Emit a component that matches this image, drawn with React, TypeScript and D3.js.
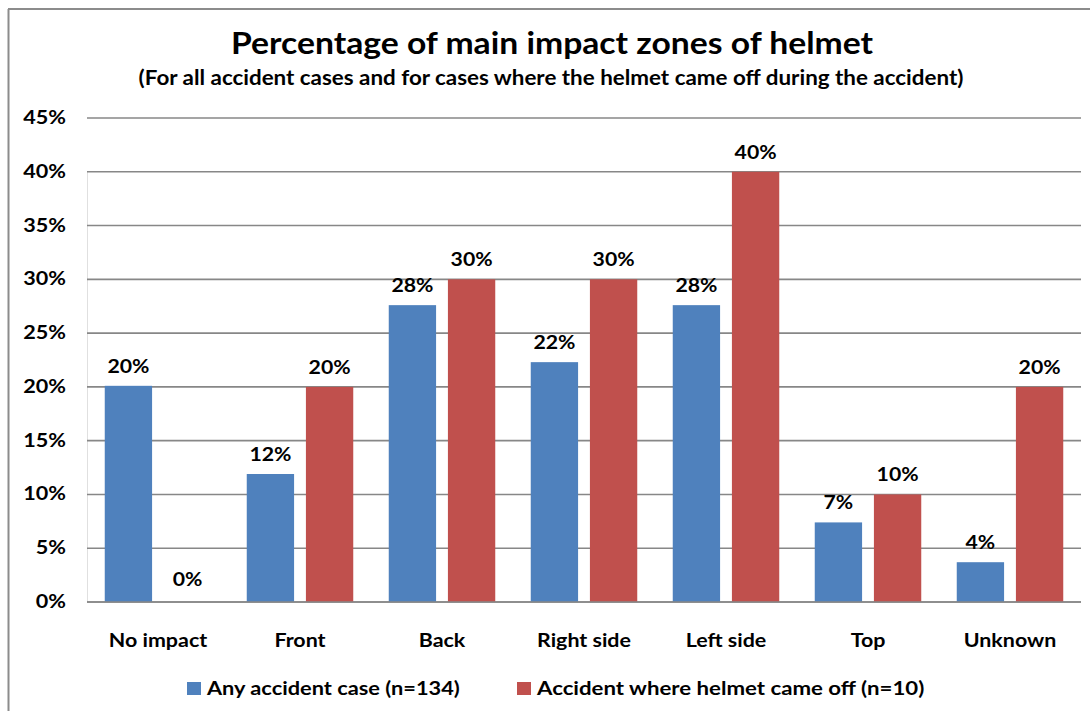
import React from "react";
import * as d3 from "d3";

const categories = ["No impact", "Front", "Back", "Right side", "Left side", "Top", "Unknown"];
const seriesNames = ["Any accident case (n=134)", "Accident where helmet came off (n=10)"];
const anyAccident = [20.1, 11.9, 27.6, 22.3, 27.6, 7.4, 3.7];
const helmetOff = [0, 20, 30, 30, 40, 10, 20];
const anyLabels = ["20%", "12%", "28%", "22%", "28%", "7%", "4%"];
const offLabels = ["0%", "20%", "30%", "30%", "40%", "10%", "20%"];
const yTicks = [0, 5, 10, 15, 20, 25, 30, 35, 40, 45];
const colors = ["#4F81BD", "#C0504D"];

const W = 1090;
const H = 711;
const FONT = "Lato, 'Open Sans', sans-serif";

type TProps = {
  x: number;
  y: number;
  size: number;
  sx: number;
  anchor?: "start" | "middle" | "end";
  children: React.ReactNode;
};

function T({ x, y, size, sx, anchor = "start", children }: TProps) {
  return (
    <text
      transform={`translate(${x},${y}) scale(${sx},1)`}
      textAnchor={anchor}
      fontSize={size}
      fontWeight={700}
      fill="#000"
    >
      {children}
    </text>
  );
}

export default function App() {
  const x = d3.scaleBand<string>().domain(categories).range([87, 1081]).paddingInner(0).paddingOuter(0);
  const xs = d3
    .scaleBand<number>()
    .domain([0, 1])
    .range([0, x.bandwidth()])
    .paddingInner(0.2)
    .paddingOuter(0.3);
  const y = d3.scaleLinear().domain([0, 45]).range([602, 118]);
  const series = [
    { name: seriesNames[0], values: anyAccident, labels: anyLabels, color: colors[0] },
    { name: seriesNames[1], values: helmetOff, labels: offLabels, color: colors[1] },
  ];

  return (
    <svg
      width={W}
      height={H}
      style={{ position: "absolute", left: 0, top: 0, background: "#fff" }}
      fontFamily={FONT}
    >
      <rect x={0} y={0} width={W} height={H} fill="#fff" />
      {/* outer frame */}
      <line x1={8.5} y1={9} x2={8.5} y2={H} stroke="#8c8c8c" strokeWidth={2} />
      <line x1={8} y1={9} x2={W} y2={9} stroke="#8c8c8c" strokeWidth={2} />

      <T x={552} y={54} size={31} sx={1.086} anchor="middle">
        Percentage of main impact zones of helmet
      </T>
      <T x={551} y={85} size={20} sx={1.12} anchor="middle">
        (For all accident cases and for cases where the helmet came off during the accident)
      </T>

      {/* faint plot-area left edge */}
      <line x1={87.5} y1={y(40)} x2={87.5} y2={y(0)} stroke="#e0e0e0" strokeWidth={1} />

      {yTicks.map((t) => (
        <g key={t}>
          <line x1={87} x2={1081} y1={y(t)} y2={y(t)} stroke="#878787" strokeWidth={1.6} />
          <T x={66} y={y(t) + 6} size={18} sx={1.2} anchor="end">
            {t}%
          </T>
        </g>
      ))}

      {series.map((s, si) =>
        categories.map((c, ci) => {
          const bx = (x(c) ?? 0) + (xs(si) ?? 0);
          const by = y(s.values[ci]);
          return (
            <g key={`${si}-${ci}`}>
              {s.values[ci] > 0 && (
                <rect x={bx} y={by} width={xs.bandwidth()} height={y(0) - by} fill={s.color} />
              )}
              <T
                x={bx + xs.bandwidth() / 2}
                y={by - (s.values[ci] > 0 ? 13 : 16)}
                size={18}
                sx={1.18}
                anchor="middle"
              >
                {s.labels[ci]}
              </T>
            </g>
          );
        })
      )}
      {/* redraw baseline over bars */}
      <line x1={87} x2={1081} y1={y(0)} y2={y(0)} stroke="#878787" strokeWidth={1.6} />

      {categories.map((c) => (
        <T key={c} x={(x(c) ?? 0) + x.bandwidth() / 2} y={647} size={18} sx={1.19} anchor="middle">
          {c}
        </T>
      ))}

      {/* legend */}
      <rect x={187} y={682} width={14} height={13} fill={colors[0]} />
      <T x={207} y={695} size={18} sx={1.21}>
        {seriesNames[0]}
      </T>
      <rect x={517} y={682} width={14} height={13} fill={colors[1]} />
      <T x={537} y={695} size={18} sx={1.235}>
        {seriesNames[1]}
      </T>
    </svg>
  );
}
